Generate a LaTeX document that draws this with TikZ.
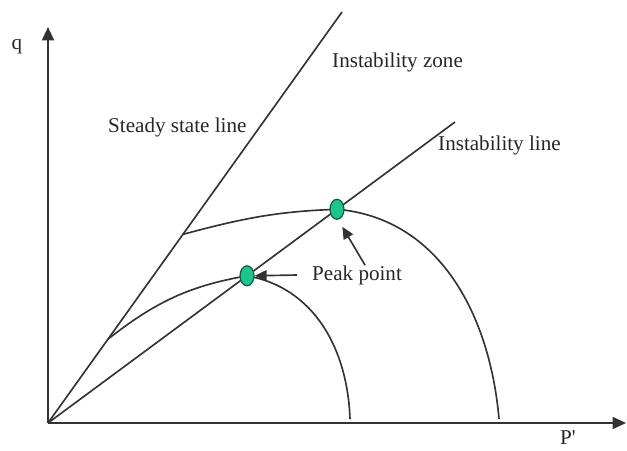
\documentclass[tikz,border=0pt]{standalone}
\usepackage{fontspec}
\setmainfont{Liberation Serif}
\usepackage{xcolor}
\usetikzlibrary{arrows.meta,positioning,calc,shapes.geometric}
\definecolor{peakgreen}{HTML}{1DC490}
\definecolor{peakedge}{HTML}{0E5A3C}
\definecolor{linegray}{HTML}{333333}

\begin{document}
\begin{tikzpicture}[x=0.03cm,y=0.03cm,
  curve/.style={draw=linegray,line width=1.4pt},
  axis/.style={draw=linegray,line width=1.4pt,-{Triangle[length=4mm,width=3.6mm]}},
  arrow/.style={-{Triangle[length=3.6mm,width=3.2mm]},line width=1.4pt,draw=linegray},
  peak/.style={ellipse,draw=peakedge,fill=peakgreen,line width=1pt,minimum width=4.2mm,minimum height=6mm,inner sep=0pt},
  note/.style={font=\fontsize{18}{20}\selectfont,text=black!85,inner sep=0pt,anchor=west}
]
\useasboundingbox (0,0) rectangle (627,450);
\coordinate (O) at (48,27);
\coordinate (qtop) at (48,423);
\coordinate (pend) at (626,27);
\coordinate (steadytop) at (342,438);
\coordinate (insttop) at (455,328);
% axes
\draw[axis] (O) -- (qtop);
\draw[axis] (O) -- (pend);
\node[note,anchor=center] (qlbl) at (17,403) {q};
\node[note,anchor=center] (plbl) at (568,12) {P\textquotesingle};
% steady state and instability lines
\draw[curve] (O) -- (steadytop);
\draw[curve] (O) -- (insttop);
% stress paths
\coordinate (a) at ($(O)!0.204!(steadytop)$);
\coordinate (b) at ($(O)!0.459!(steadytop)$);
\coordinate (p1) at ($(O)!0.489!(insttop)$);
\coordinate (p2) at ($(O)!0.710!(insttop)$);
\coordinate (aend) at (350,31);
\coordinate (bend) at (499,31);
\draw[curve] (a) to[out=38,in=190] (p1) to[out=-10,in=92] (aend);
\draw[curve] (b) to[out=15,in=182] (p2) to[out=-5,in=95] (bend);
\node[peak] (peak1) at (p1) {};
\node[peak] (peak2) at (p2) {};
% labels
\node[note] (steadylbl) at (108,323) {Steady state line};
\node[note] (zonelbl) at (332,388) {Instability zone};
\node[note] (instlbl) at (438,305) {Instability line};
\node[note] (peaklbl) at (312,175) {Peak point};
\draw[arrow] ([xshift=-4.5mm]peaklbl.west) -- (peak1.east);
\draw[arrow] ([xshift=2.4mm]peaklbl.north) -- ([yshift=-3mm]peak2.south east);
\end{tikzpicture}
\end{document}
